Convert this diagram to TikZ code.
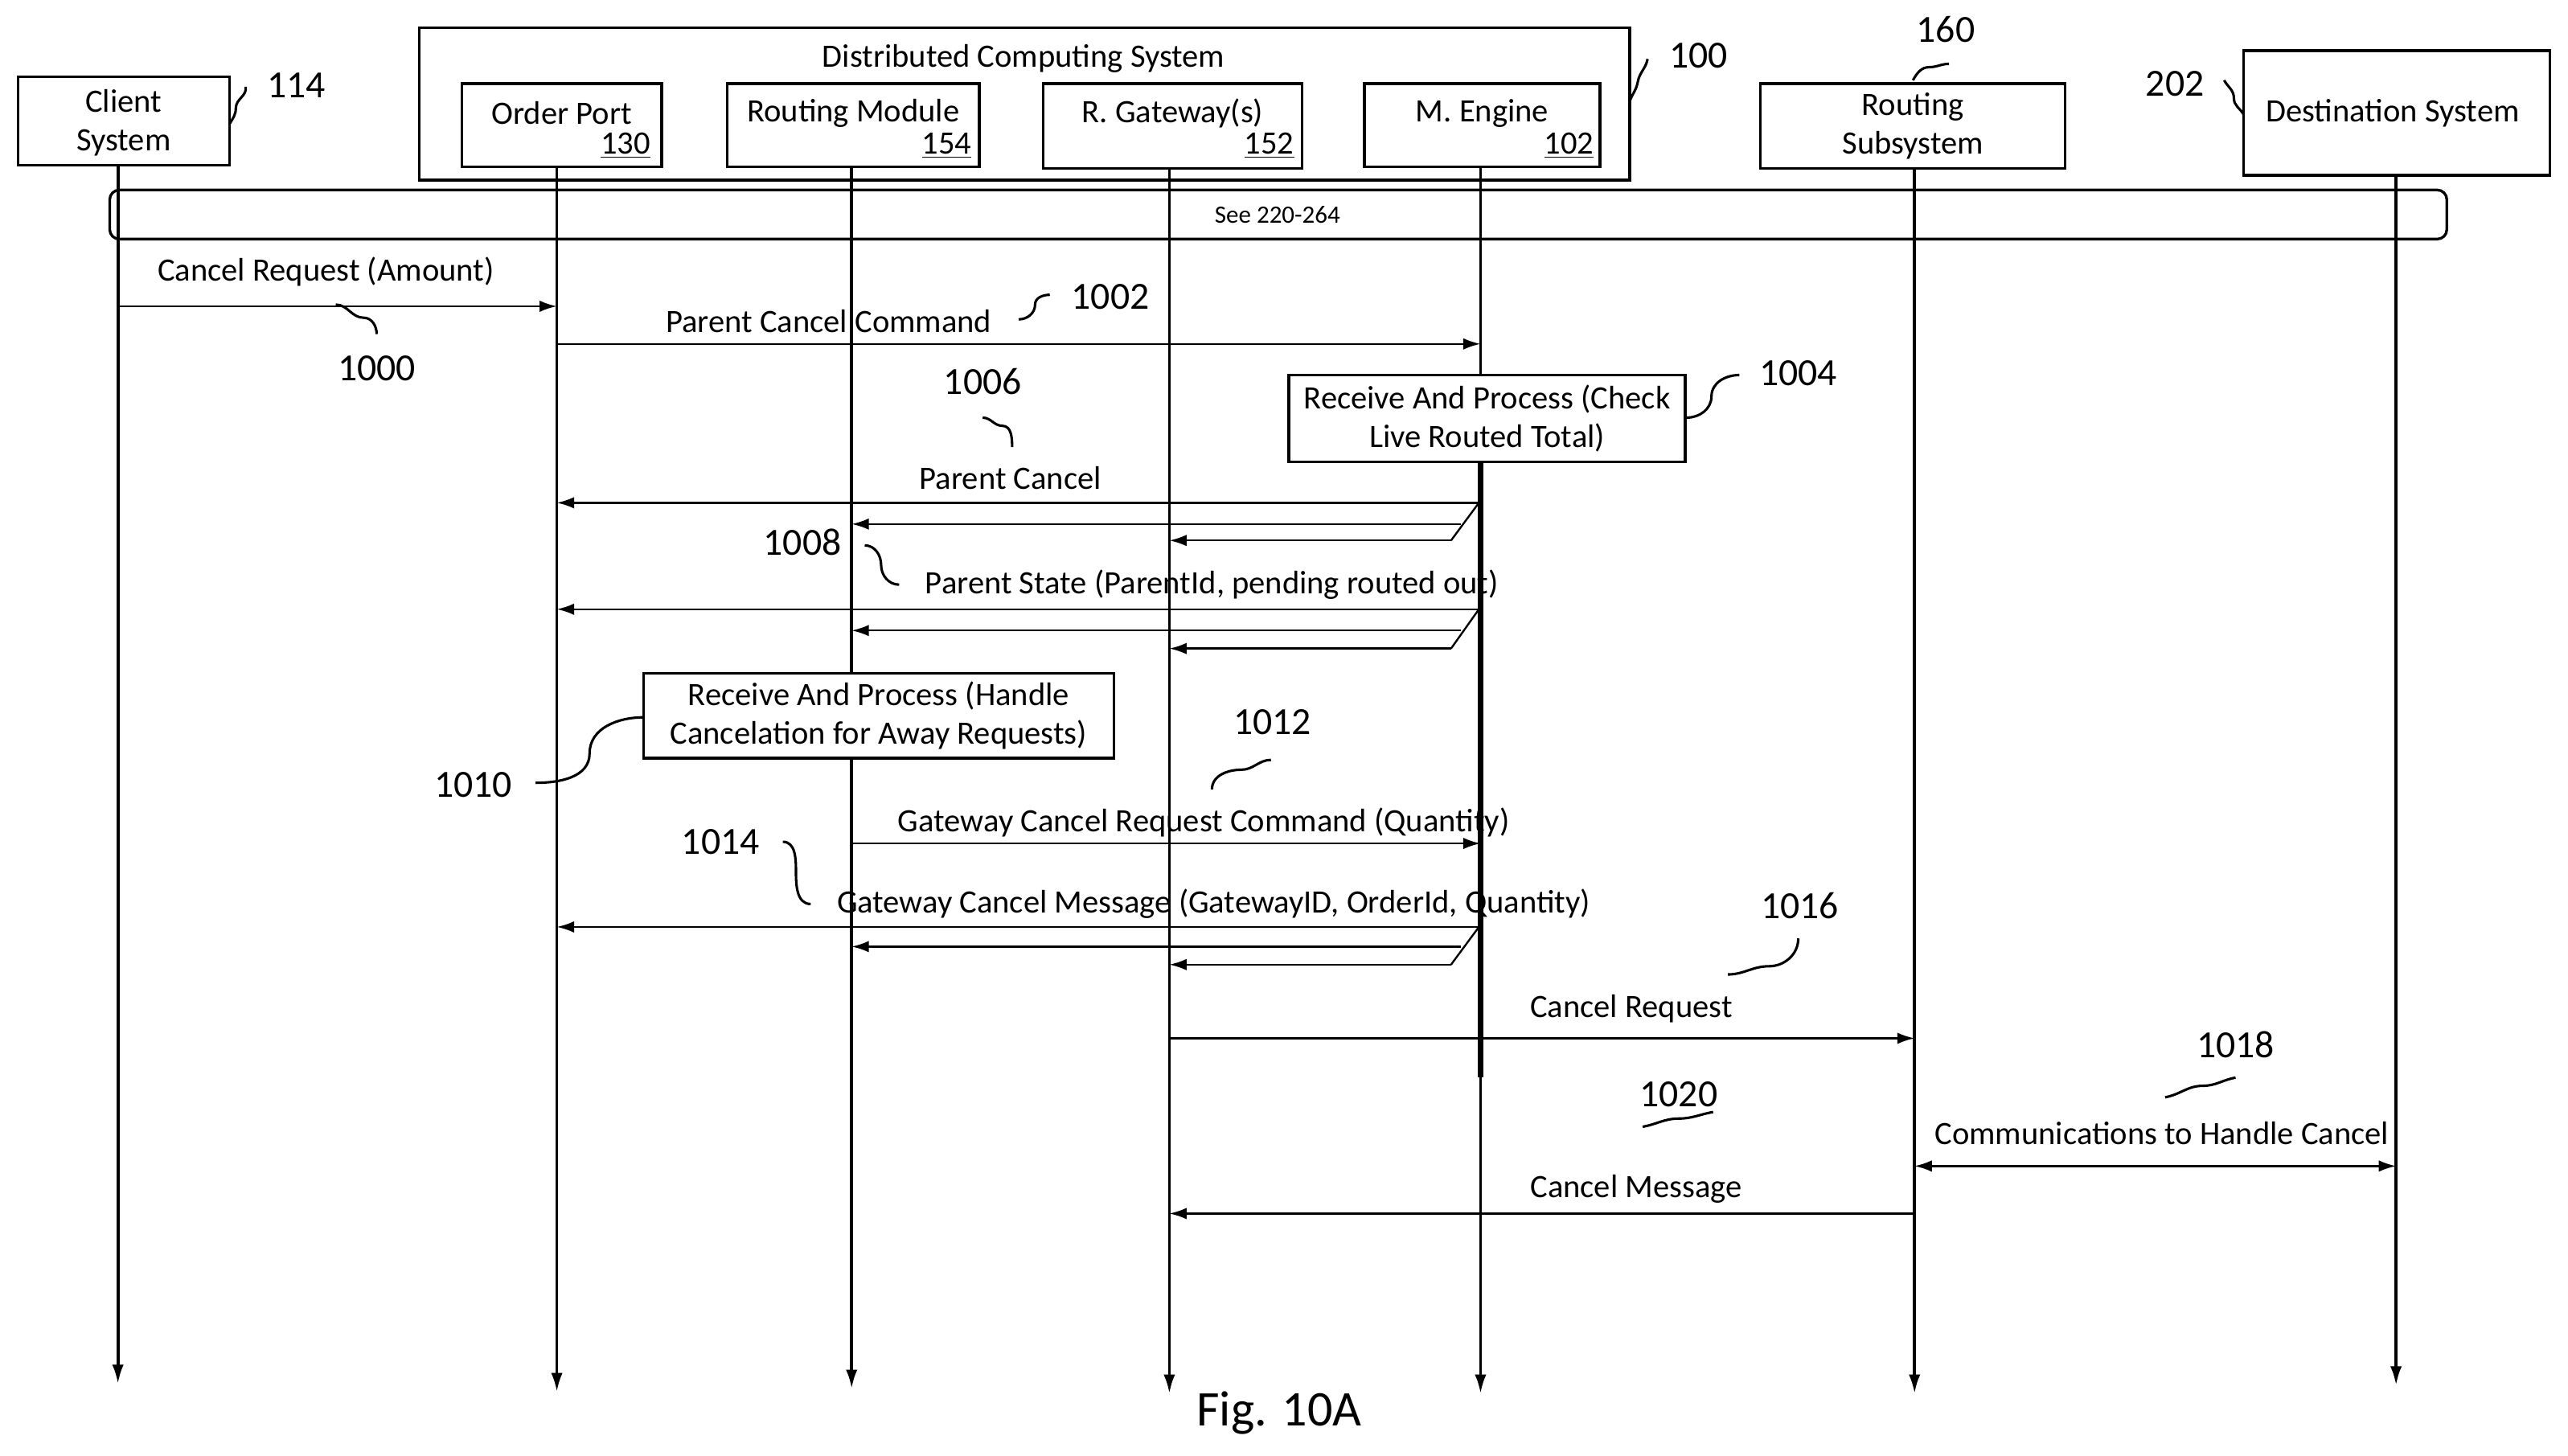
\documentclass[tikz,border=0pt]{standalone}
\usepackage{fontspec}
\setmainfont{Carlito}
\usetikzlibrary{arrows.meta}
\begin{document}
\begin{tikzpicture}[x=0.03cm,y=-0.03cm,
  every node/.style={font=\fontsize{17}{20}\selectfont,inner sep=0pt},
  box/.style={draw,line width=1.4pt},
  life/.style={line width=1.6pt,-{Latex[length=10pt,width=6pt]}},
  msg/.style={line width=1pt,-{Latex[length=9pt,width=6pt]}},
  squig/.style={line width=1.3pt},
  num/.style={font=\fontsize{20}{24}\selectfont}]
\useasboundingbox (0,0) rectangle (1568,888.6);
% boxes
\draw[box] (11,47) rectangle (140,101);
\node[align=center] (cs) at (75.5,75) {Client\\System};
\draw[box] (256,17) rectangle (995,110);
\node (dcs) at (625,36) {Distributed Computing System};
\draw[box] (282,51) rectangle (404,102);
\node (op) at (343,69) {Order Port}; \node at (382,89) {\underline{130}};
\draw[box] (444,51) rectangle (598,102);
\node (rm) at (521,69) {Routing Module}; \node at (578,89) {\underline{154}};
\draw[box] (637,51) rectangle (795,103);
\node (rg) at (716,69) {R. Gateway(s)}; \node at (775,89) {\underline{152}};
\draw[box] (833,51) rectangle (977,102);
\node (me) at (905,69) {M. Engine}; \node at (958,89) {\underline{102}};
\draw[box] (1075,51) rectangle (1261,103);
\node[align=center] (rs) at (1168,77) {Routing\\Subsystem};
\draw[box] (1370,31) rectangle (1557,107);
\node (ds) at (1461,69) {Destination System};
\draw[box,rounded corners=5pt] (67,116) rectangle (1494,146);
\node[font=\fontsize{13}{15}\selectfont] (see) at (780,131) {See 220-264};
% lifelines
\foreach \n/\x/\t/\b in {a/72/101/845,b/340/102/850,c/520/102/848,d/714/103/851,f/1169/103/851,g/1463/107/846}{
  \coordinate (\n t) at (\x,\t); \coordinate (\n b) at (\x,\b);
  \draw[life] (\n t) -- (\n b);}
\coordinate (et) at (904,102); \coordinate (eb) at (904,851);
\draw[line width=1.6pt] (et) -- (904,282);
\draw[line width=2.6pt] (904,282) -- (904,658);
\draw[life] (904,658) -- (eb);
% numbers & squiggles
\node[num] at (181,52) {114}; \draw[squig] (150,53) to[out=-80,in=90] (144,66) to[out=-90,in=60] (140,76);
\node[num] at (1037,34) {100}; \draw[squig] (1006,36) to[out=-100,in=80] (1000,50) to[out=-100,in=70] (995,62);
\node[num] at (1188,18) {160}; \draw[squig] (1190,39) to[out=180,in=0] (1178,41) to[out=180,in=60] (1168,49);
\node[num] at (1328,51) {202}; \draw[squig] (1358,49) to[out=-60,in=90] (1364,60) to[out=-90,in=120] (1370,70);
% messages
\node (m1) at (199,166) {Cancel Request (Amount)};
\coordinate (m1a) at (72,187); \coordinate (m1b) at (340,187);
\draw[msg] (m1a) -- (m1b);
\node[num] at (230,225) {1000}; \draw[squig] (205,186) to[out=0,in=180] (222,194) to[out=0,in=90] (230,204);
\node (m2) at (506,196) {Parent Cancel Command};
\coordinate (m2a) at (340,210); \coordinate (m2b) at (904,210);
\draw[msg] (m2a) -- (m2b);
\node[num] at (678,181) {1002}; \draw[squig] (622,195) to[out=0,in=-90] (632,186) to[out=90,in=180] (641,180);
\draw[box,fill=white] (787,229) rectangle (1029,282);
\node[align=center] (rp1) at (908,255.5) {Receive And Process (Check\\Live Routed Total)};
\node[num] at (1098,228) {1004}; \draw[squig] (1030,255) to[out=0,in=-90] (1045,242) to[out=90,in=180] (1062,229);
\node[num] at (600,233) {1006}; \draw[squig] (600,255) to[out=0,in=180] (612,260) to[out=0,in=90] (618,273);
\node (m3) at (617,292) {Parent Cancel};
\coordinate (f1) at (903,307); \coordinate (f1b) at (892,320); \coordinate (f1c) at (886,330);
\draw[msg] (f1) -- (340,307);
\draw[line width=1pt] (f1) -- (f1c);
\draw[msg] (f1b) -- (520,320);
\draw[msg] (f1c) -- (714,330);
\node[num] at (490,331) {1008}; \draw[squig] (528,333) to[out=0,in=90] (538,345) to[out=-90,in=180] (549,357);
\node (m4) at (740,357) {Parent State (ParentId, pending routed out)};
\coordinate (f2) at (903,372); \coordinate (f2b) at (892,385); \coordinate (f2c) at (886,396);
\draw[msg] (f2) -- (340,372);
\draw[line width=1pt] (f2) -- (f2c);
\draw[msg] (f2b) -- (520,385);
\draw[msg] (f2c) -- (714,396);
\draw[box,fill=white] (393,411) rectangle (680,463);
\node[align=center] (rp2) at (536.5,437) {Receive And Process (Handle\\Cancelation for Away Requests)};
\node[num] at (289,479) {1010}; \draw[squig] (327,478) to[out=0,in=-90] (360,460) to[out=90,in=180] (393,438);
\node[num] at (777,441) {1012}; \draw[squig] (740,482) to[out=90,in=180] (758,470) to[out=0,in=180] (776,464);
\node (m5) at (735,502) {Gateway Cancel Request Command (Quantity)};
\coordinate (m5a) at (520,515); \coordinate (m5b) at (904,515);
\draw[msg] (m5a) -- (m5b);
\node[num] at (440,514) {1014}; \draw[squig] (478,514) to[out=0,in=90] (486,532) to[out=-90,in=180] (495,552);
\node (m6) at (741,552) {Gateway Cancel Message (GatewayID, OrderId, Quantity)};
\coordinate (f3) at (903,566); \coordinate (f3b) at (892,578); \coordinate (f3c) at (886,589);
\draw[msg] (f3) -- (340,566);
\draw[line width=1pt] (f3) -- (f3c);
\draw[msg] (f3b) -- (520,578);
\draw[msg] (f3c) -- (714,589);
\node[num] at (1099,553) {1016}; \draw[squig] (1055,595) to[out=0,in=180] (1080,590) to[out=0,in=-90] (1098,573);
\node (m7) at (996,616) {Cancel Request};
\coordinate (m7a) at (714,634); \coordinate (m7b) at (1169,634);
\draw[msg] (m7a) -- (m7b);
\node[num] at (1365,638) {1018}; \draw[squig] (1322,670) to[out=10,in=180] (1345,663) to[out=0,in=190] (1365,658);
\node (m8) at (1320,692) {Communications to Handle Cancel};
\coordinate (m8a) at (1169,712); \coordinate (m8b) at (1463,712);
\draw[msg,{Latex[length=9pt,width=6pt]}-{Latex[length=9pt,width=6pt]}] (m8a) -- (m8b);
\node[num] at (1025,668) {1020}; \draw[squig] (1003,688) to[out=10,in=180] (1025,683) to[out=0,in=190] (1046,679);
\node (m9) at (999,726) {Cancel Message};
\coordinate (m9a) at (1169,741); \coordinate (m9b) at (714,741);
\draw[msg] (m9a) -- (m9b);
\node[font=\fontsize{26}{30}\selectfont] (fig) at (781,863) {Fig. 10A};
\end{tikzpicture}
\end{document}
